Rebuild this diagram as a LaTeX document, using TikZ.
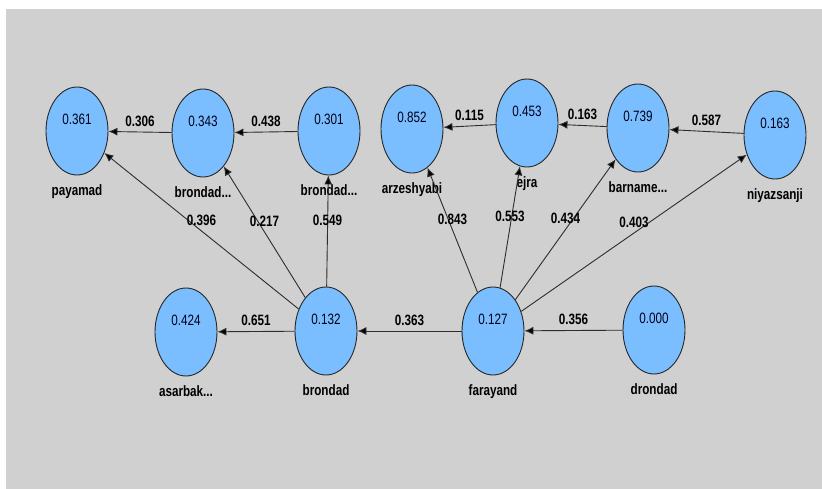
\documentclass[tikz,border=0pt]{standalone}
\usepackage{fontspec}
\setmainfont{Liberation Sans}
\newfontfamily\plsfont[FakeStretch=0.78]{Liberation Sans}
\usetikzlibrary{shapes.geometric,arrows.meta}
\definecolor{lvfill}{RGB}{122,190,255}
\definecolor{canvasgray}{RGB}{208,208,208}
\definecolor{edgegray}{RGB}{45,45,45}
\tikzstyle{latent} = [draw=black!85, fill=lvfill, shape=ellipse, minimum width=62pt, minimum height=88pt, inner sep=0pt, line width=0.9pt]
\tikzstyle{pathline} = [draw=edgegray, line width=0.9pt, -{Latex[length=9pt,width=8pt,fill=black]}]
\tikzstyle{coef} = [above=5pt, inner sep=0pt, font=\plsfont\bfseries\fontsize{15pt}{15pt}\selectfont]
\tikzstyle{rsq} = [inner sep=0pt, yshift=12pt, text=black!90!blue, font=\plsfont\fontsize{15pt}{15pt}\selectfont]
\tikzstyle{lvname} = [inner sep=0pt, yshift=-9pt, font=\plsfont\bfseries\fontsize{15pt}{15pt}\selectfont]

\begin{document}
\begin{tikzpicture}[x=1pt,y=-1pt]
    \useasboundingbox (0,0) rectangle (822,489);
    \fill [canvasgray] (6,9) rectangle (822,489);
    % top row
    \draw (77,131) node[latent, label={[rsq]center:0.361}, label={[lvname]below:payamad}] (payamad) {};
    \draw (203,133) node[latent, label={[rsq]center:0.343}, label={[lvname]below:brondad...}] (brondadi) {};
    \draw (329,131) node[latent, label={[rsq]center:0.301}, label={[lvname]below:brondad...}] (brondadii) {};
    \draw (412,129) node[latent, label={[rsq]center:0.852}, label={[lvname]below:arzeshyabi}] (arzeshyabi) {};
    \draw (527,123) node[latent, label={[rsq]center:0.453}, label={[lvname]below:ejra}] (ejra) {};
    \draw (638,128) node[latent, label={[rsq]center:0.739}, label={[lvname]below:barname...}] (barname) {};
    \draw (775,135) node[latent, label={[rsq]center:0.163}, label={[lvname]below:niyazsanji}] (niyazsanji) {};
    % bottom row
    \draw (186,332) node[latent, label={[rsq]center:0.424}, label={[lvname]below:asarbak...}] (asarbak) {};
    \draw (326,331) node[latent, label={[rsq]center:0.132}, label={[lvname]below:brondad}] (brondad) {};
    \draw (493,331) node[latent, label={[rsq]center:0.127}, label={[lvname]below:farayand}] (farayand) {};
    \draw (654,330) node[latent, label={[rsq]center:0.000}, label={[lvname]below:drondad}] (drondad) {};
    % paths
    \draw [pathline] (brondadi) -- node [coef] {0.306} (payamad);
    \draw [pathline] (brondadii) -- node [coef] {0.438} (brondadi);
    \draw [pathline] (ejra) -- node [coef] {0.115} (arzeshyabi);
    \draw [pathline] (barname) -- node [coef] {0.163} (ejra);
    \draw [pathline] (niyazsanji) -- node [coef] {0.587} (barname);
    \draw [pathline] (brondad) -- node [coef] {0.396} (payamad);
    \draw [pathline] (brondad) -- node [coef] {0.217} (brondadi);
    \draw [pathline] (brondad) -- node [coef] {0.549} (brondadii);
    \draw [pathline] (farayand) -- node [coef] {0.843} (arzeshyabi);
    \draw [pathline] (farayand) -- node [coef] {0.553} (ejra);
    \draw [pathline] (farayand) -- node [coef] {0.434} (barname);
    \draw [pathline] (farayand) -- node [coef] {0.403} (niyazsanji);
    \draw [pathline] (brondad) -- node [coef] {0.651} (asarbak);
    \draw [pathline] (farayand) -- node [coef] {0.363} (brondad);
    \draw [pathline] (drondad) -- node [coef] {0.356} (farayand);
\end{tikzpicture}
\end{document}
